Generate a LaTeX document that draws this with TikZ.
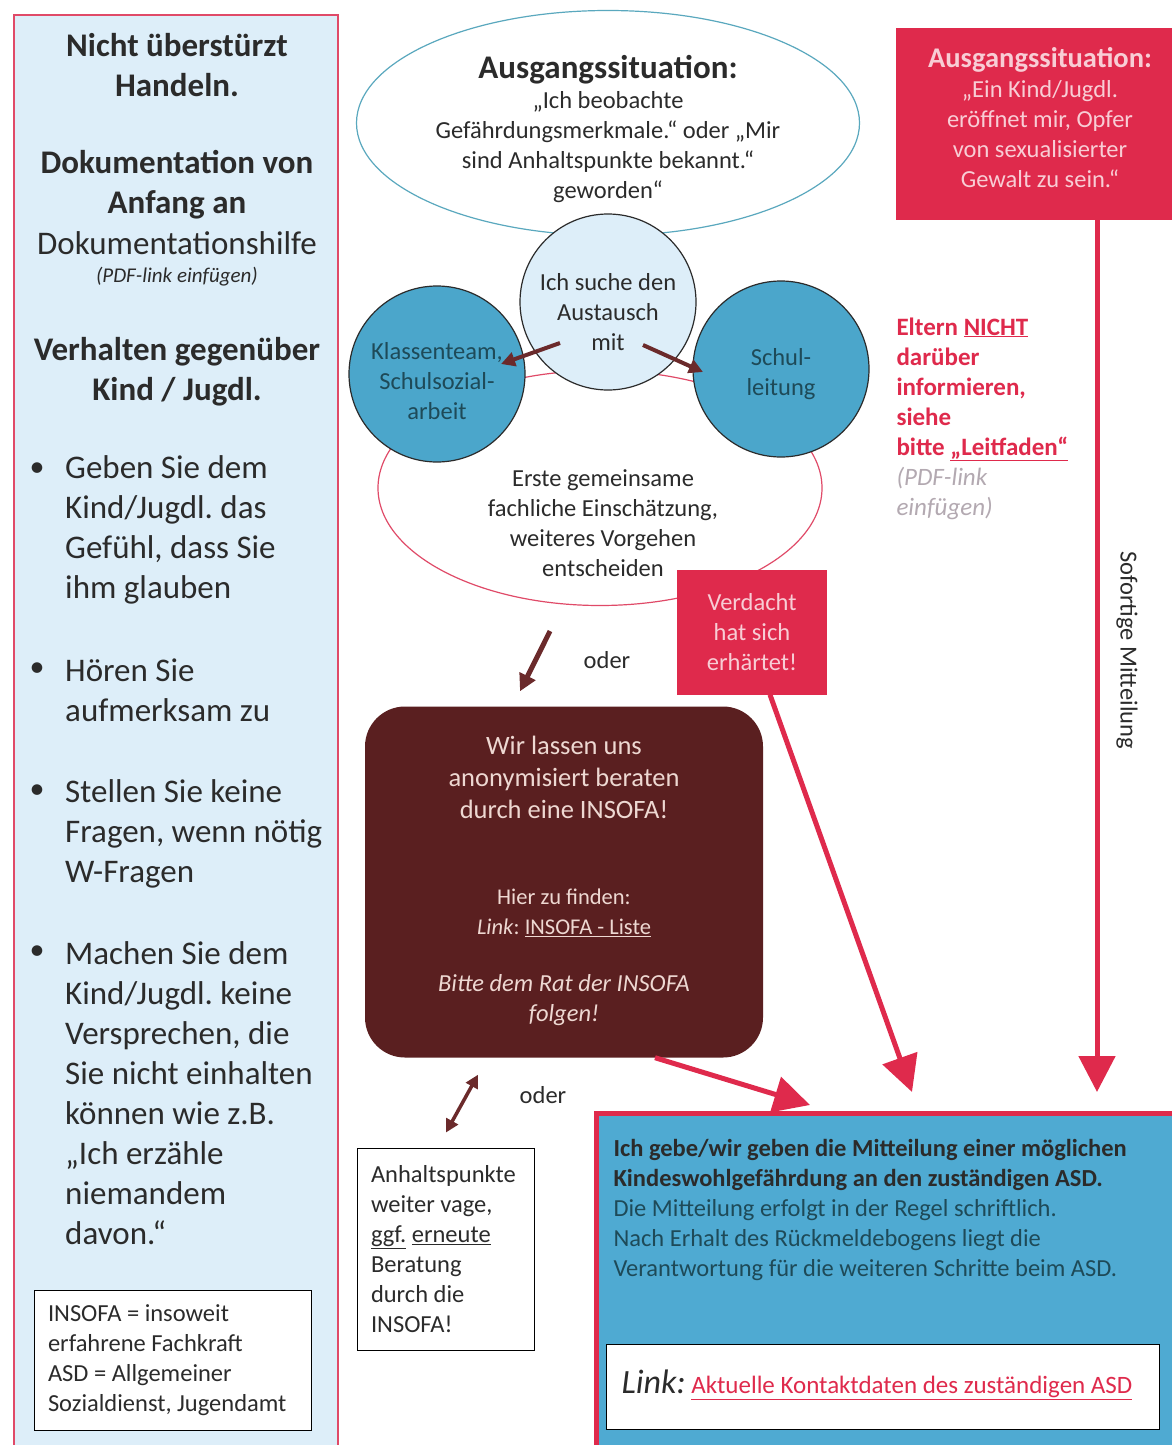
\documentclass[tikz,border=0pt]{standalone}
\usepackage{fontspec}
\setmainfont{Carlito}
\usepackage{tikz}
\usetikzlibrary{arrows.meta,shapes.geometric}
\frenchspacing
\definecolor{panel_blue}{HTML}{DDEEF9}
\definecolor{circle_blue}{HTML}{4BA6CB}
\definecolor{asd_blue}{HTML}{4FAAD2}
\definecolor{insofa_brown}{HTML}{5A1F20}
\definecolor{arrow_brown}{HTML}{6B2A2B}
\definecolor{alarm_red}{HTML}{DF2A4C}
\definecolor{border_red}{HTML}{E04A68}
\definecolor{pale_pink}{HTML}{F8CDD5}
\definecolor{beige_text}{HTML}{EED8D2}
\definecolor{ellipse_teal}{HTML}{5AA8BE}
\definecolor{ink}{HTML}{2B2B2B}
\definecolor{deep_teal}{HTML}{1E4A58}
\definecolor{link_grey}{HTML}{B3A9B1}
\newcommand{\fsz}[2]{\fontsize{#1}{#2}\selectfont}

\begin{document}
\begin{tikzpicture}[x=1pt,y=-1pt,
    heading/.style={align=center, text=ink, font=\fsz{33}{40}\bfseries},
    bullettext/.style={anchor=west, align=left, inner sep=0pt, text=ink, font=\fsz{33}{40}},
    bubble/.style={circle, draw=ink, line width=1.2pt, minimum size=176pt, inner sep=0pt},
    bubbletext/.style={align=center, font=\fsz{24.5}{30}},
    alarmbox/.style={rectangle, fill=alarm_red, text=pale_pink, align=center, inner sep=0pt},
    framebox/.style={rectangle, draw=black, line width=1pt, fill=white, inner sep=0pt},
    brownarrow/.style={arrow_brown, line width=4pt, -{Triangle[length=14pt,width=14pt]}},
    redarrow/.style={alarm_red, line width=5pt, -{Triangle[length=36pt,width=36pt]}}]
    \useasboundingbox (0,0) rectangle (1172,1445);
    \fill[white] (0,0) rectangle (1172,1445);

    % Linke Spalte
    \node[rectangle, draw=border_red, fill=panel_blue, line width=1.5pt, minimum width=324pt, minimum height=1440pt, inner sep=0pt] (panel) at (176,735) {};
    \node[heading] (nicht) at (177,65) {Nicht überstürzt\\Handeln.};
    \node[heading] (doku) at (177,185) {Dokumentation von\\Anfang an};
    \node[text=ink, font=\fsz{33}{40}] (hilfe) at (177,243) {Dokumentationshilfe};
    \node[text=ink, font=\fsz{21}{24}\itshape] (pdf) at (177,277) {(PDF-link einfügen)};
    \node[heading] (verhalten) at (177,372) {Verhalten gegenüber\\Kind / Jugdl.};
    % Hinweise mit Aufzählungspunkten
    \foreach \n/\yc/\yb/\txt in {1/530/470/{Geben Sie dem\\Kind/Jugdl. das\\Gefühl, dass Sie\\ihm glauben},
        2/690/670/{Hören Sie\\aufmerksam zu},
        3/834/792/{Stellen Sie keine\\Fragen, wenn nötig\\W-Fragen},
        4/1093/953/{Machen Sie dem\\Kind/Jugdl. keine\\Versprechen, die\\Sie nicht einhalten\\können wie z.B.\\„Ich erzähle\\niemandem\\davon.“}} {
        \node[bullettext] (tipp\n) at (65,\yc) {\txt};
        \node[text=ink, font=\fsz{30}{40}] (punkt\n) at (37,\yb) {•};
    }
    % Abkürzungen
    \node[framebox, minimum width=277pt, minimum height=140pt, text width=250pt, align=flush left, text=ink, font=\fsz{24.5}{30}] (abk) at (173,1360) {INSOFA = insoweit\\erfahrene Fachkraft\\ASD = Allgemeiner\\Sozialdienst, Jugendamt};

    % Ausgangssituationen
    \node[ellipse, draw=ellipse_teal, line width=1.2pt, fill=white, minimum width=503pt, minimum height=225pt, inner sep=0pt] (start) at (608,123) {};
    \node[align=center, text=ink, font=\fsz{24.5}{30}] (start_txt) at (608,129) {{\fsz{33}{34}\bfseries Ausgangssituation:}\\„Ich beobachte\\Gefährdungsmerkmale.“ oder „Mir\\sind Anhaltspunkte bekannt.“\\geworden“};
    \node[alarmbox, minimum width=280pt, minimum height=192pt] (kind) at (1036,124) {};
    \node[align=center, text=pale_pink, font=\fsz{24.5}{30}] (kind_txt) at (1040,118) {{\fsz{28.5}{32}\bfseries Ausgangssituation:}\\„Ein Kind/Jugdl.\\eröffnet mir, Opfer\\von sexualisierter\\Gewalt zu sein.“};

    % Austausch und Einschaetzung
    \node[ellipse, draw=border_red, line width=1.2pt, fill=white, minimum width=444pt, minimum height=235pt, inner sep=0pt] (einsch) at (600,488) {};
    \node[align=center, text=ink, font=\fsz{24.5}{30}] (einsch_txt) at (603,523) {Erste gemeinsame\\fachliche Einschätzung,\\weiteres Vorgehen\\entscheiden};
    \node[bubble, fill=circle_blue] (team) at (437,374) {};
    \node[bubbletext, text=deep_teal] (team_txt) at ([yshift=-7pt]team.center) {Klassenteam,\\Schulsozial-\\arbeit};
    \node[bubble, fill=circle_blue] (leitung) at (781,369) {};
    \node[bubbletext, text=deep_teal] (leitung_txt) at ([yshift=-5pt]leitung.center) {Schul-\\leitung};
    \node[bubble, fill=panel_blue] (austausch) at (608,302) {};
    \node[bubbletext, text=ink] (austausch_txt) at ([yshift=-10pt]austausch.center) {Ich suche den\\Austausch\\mit};
    \node[alarmbox, minimum width=150pt, minimum height=125pt, font=\fsz{24.5}{30}] (verdacht) at (752,632) {Verdacht\\hat sich\\erhärtet!};
    \node[anchor=north west, align=left, text=alarm_red, font=\fsz{25}{30}\bfseries] (eltern) at (893,314) {Eltern \underline{NICHT}\\darüber\\informieren,\\siehe\\bitte \underline{„Leitfaden“}\\{\mdseries\itshape\color{link_grey}(PDF-link}\\{\mdseries\itshape\color{link_grey}einfügen)}};
    \node[text=ink, font=\fsz{24.5}{30}] (oder1) at (607,660) {oder};

    % INSOFA
    \node[rectangle, rounded corners=40pt, fill=insofa_brown, minimum width=398pt, minimum height=351pt, inner sep=0pt] (insofa) at (564,882) {};
    \node[align=center, text=beige_text, font=\fsz{26.5}{32}] (insofa_a) at (564,777) {Wir lassen uns\\anonymisiert beraten\\durch eine INSOFA!};
    \node[align=center, text=beige_text, font=\fsz{22.5}{30}] (insofa_b) at (564,913) {Hier zu finden:\\\textit{Link}: \underline{INSOFA - Liste}};
    \node[align=center, text=beige_text, font=\fsz{24.5}{30}\itshape] (insofa_c) at (564,1000) {Bitte dem Rat der INSOFA\\folgen!};
    \node[text=ink, font=\fsz{24.5}{30}] (oder2) at (543,1095) {oder};
    \node[framebox, text width=150pt, minimum width=177pt, minimum height=202pt, align=flush left, text=ink, font=\fsz{24.5}{30}] (vage) at (446,1249) {Anhaltspunkte\\weiter vage,\\\underline{ggf.} \underline{erneute}\\Beratung\\durch die\\INSOFA!};

    % Mitteilung an den ASD
    \node[rectangle, draw=alarm_red, line width=5pt, fill=asd_blue, minimum width=578pt, minimum height=336pt, inner sep=0pt] (asd) at (885,1281) {};
    \node[anchor=north west, align=left, text=deep_teal, font=\fsz{24.5}{30}] (asd_txt) at (610,1136) {\textcolor{ink}{\bfseries Ich gebe/wir geben die Mitteilung einer möglichen}\\\textcolor{ink}{\bfseries Kindeswohlgefährdung an den zuständigen ASD.}\\Die Mitteilung erfolgt in der Regel schriftlich.\\Nach Erhalt des Rückmeldebogens liegt die\\Verantwortung für die weiteren Schritte beim ASD.};
    \node[framebox, minimum width=553pt, minimum height=85pt] (asd_link) at (883,1387) {};
    \node[anchor=west, text=ink, font=\fsz{25}{30}] (asd_link_txt) at (618,1385) {{\fsz{34}{36}\itshape Link:} \textcolor{alarm_red}{\underline{Aktuelle Kontaktdaten des zuständigen ASD}}};
    \node[rotate=-90, text=ink, font=\fsz{24.5}{30}] (sofort) at (1127,650) {Sofortige Mitteilung};

    % Pfeile
    \coordinate (ziel_a) at (810,1105);
    \coordinate (ziel_b) at (912,1092);
    \coordinate (ziel_c) at (1097,1092);
    \draw[brownarrow] ([xshift=-48pt,yshift=-41pt]austausch.center) -- ([xshift=64pt,yshift=10pt]team.center);
    \draw[brownarrow] ([xshift=35pt,yshift=-43pt]austausch.center) -- ([xshift=-78pt,yshift=-3pt]leitung.center);
    \draw[brownarrow, line width=5pt, -{Triangle[length=17pt,width=17pt]}] ([xshift=-50pt,yshift=-25pt]einsch.south) -- ([xshift=-44pt,yshift=15pt]insofa.north);
    \draw[arrow_brown, line width=3.5pt, {Triangle[length=13pt,width=13pt]}-{Triangle[length=13pt,width=13pt]}] ([xshift=-86pt,yshift=-17pt]insofa.south) -- ([yshift=15pt]vage.north);
    \draw[redarrow] ([xshift=91pt]insofa.south) -- (ziel_a);
    \draw[redarrow] ([xshift=18pt]verdacht.south) -- (ziel_b);
    \draw[redarrow] ([xshift=61pt]kind.south) -- (ziel_c);
\end{tikzpicture}
\end{document}
